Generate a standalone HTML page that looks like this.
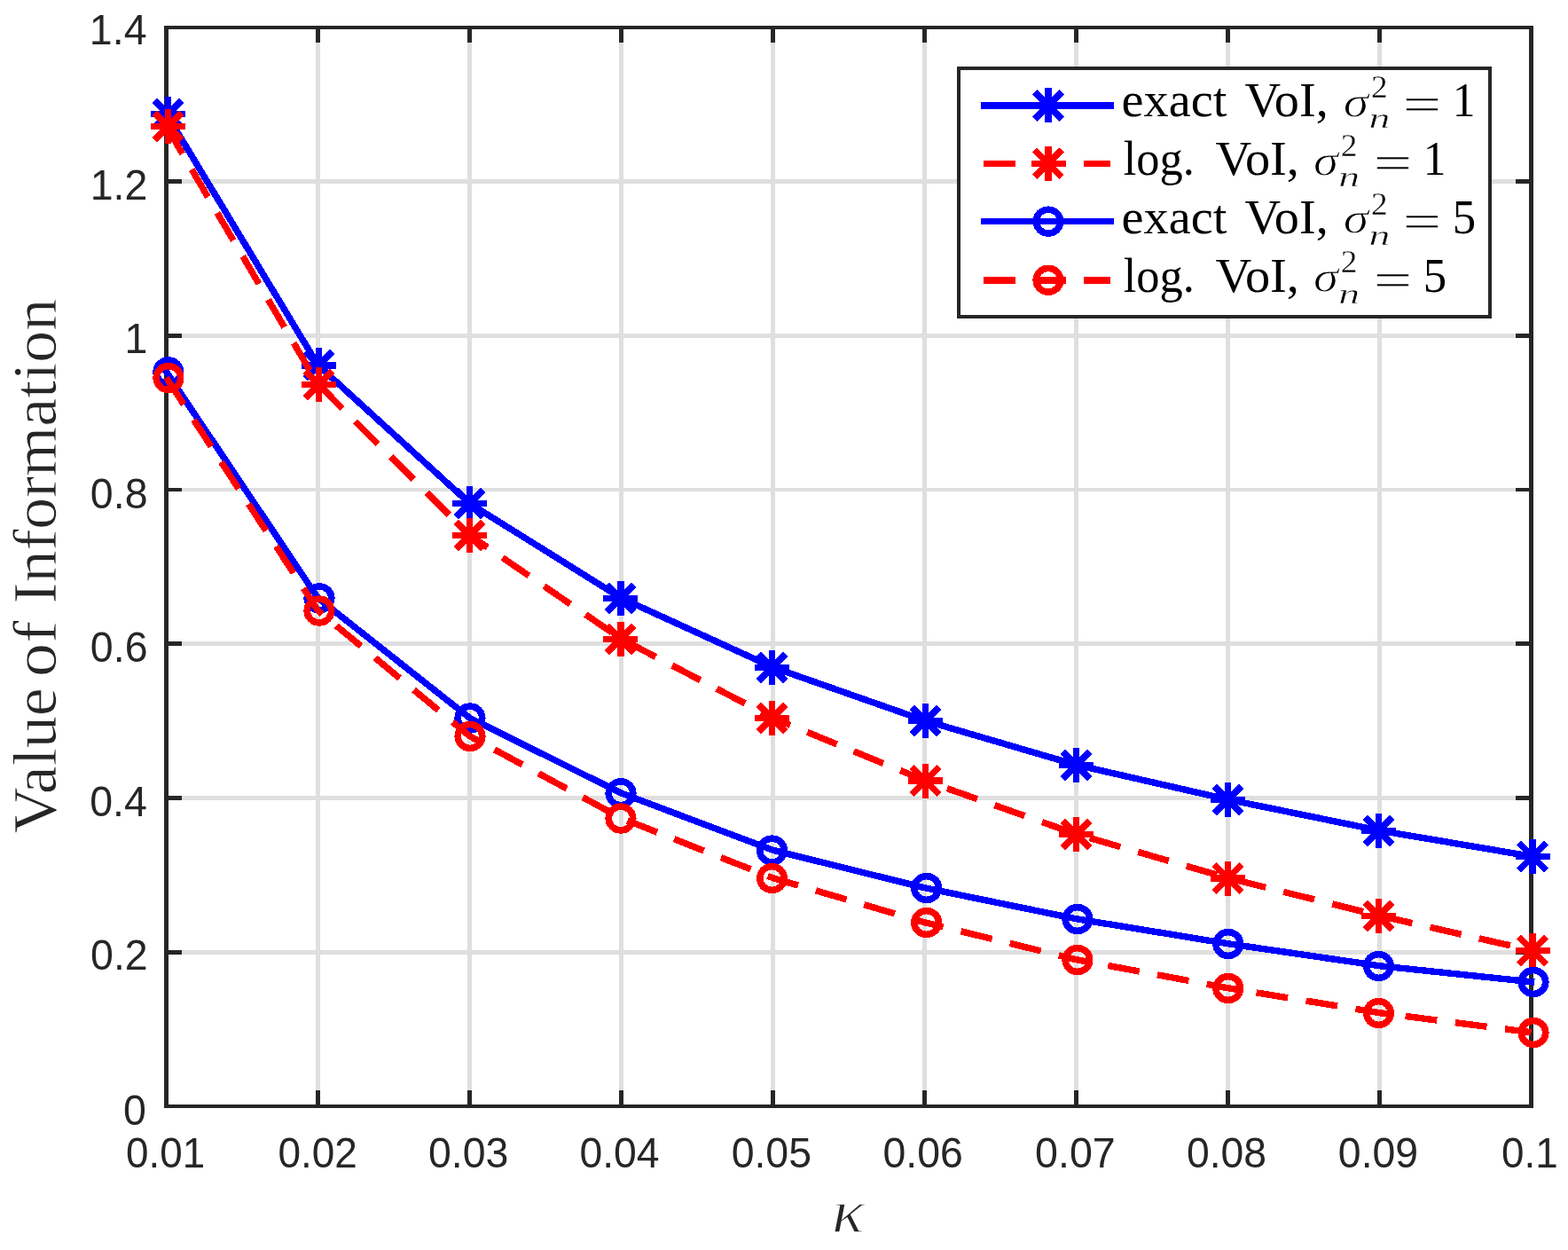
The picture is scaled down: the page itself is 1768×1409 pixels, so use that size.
<!DOCTYPE html>
<html lang="en">
<head>
<meta charset="utf-8">
<title>Value of Information vs kappa</title>
<style>
html,body{margin:0;padding:0;background:#fff;}
body{width:1768px;height:1409px;overflow:hidden;}
svg{display:block;}
text{white-space:pre;}
</style>
</head>
<body>
<svg width="1768" height="1409" viewBox="0 0 1768 1409" role="img" aria-label="Value of Information versus kappa">
<rect width="1768" height="1409" fill="#fff"/>
<g shape-rendering="crispEdges">
<rect x="356.00" y="31.00" width="5.00" height="1216.00" fill="#dfdfdf"/>
<rect x="527.00" y="31.00" width="5.00" height="1216.00" fill="#dfdfdf"/>
<rect x="698.00" y="31.00" width="5.00" height="1216.00" fill="#dfdfdf"/>
<rect x="869.00" y="31.00" width="5.00" height="1216.00" fill="#dfdfdf"/>
<rect x="1040.00" y="31.00" width="5.00" height="1216.00" fill="#dfdfdf"/>
<rect x="1211.00" y="31.00" width="5.00" height="1216.00" fill="#dfdfdf"/>
<rect x="1382.00" y="31.00" width="5.00" height="1216.00" fill="#dfdfdf"/>
<rect x="1553.00" y="31.00" width="5.00" height="1216.00" fill="#dfdfdf"/>
<rect x="187.50" y="202.00" width="1539.00" height="5.00" fill="#dfdfdf"/>
<rect x="187.50" y="376.00" width="1539.00" height="5.00" fill="#dfdfdf"/>
<rect x="187.50" y="550.00" width="1539.00" height="4.00" fill="#dfdfdf"/>
<rect x="187.50" y="723.00" width="1539.00" height="5.00" fill="#dfdfdf"/>
<rect x="187.50" y="897.00" width="1539.00" height="5.00" fill="#dfdfdf"/>
<rect x="187.50" y="1071.00" width="1539.00" height="5.00" fill="#dfdfdf"/>
</g>
<g shape-rendering="crispEdges">
<rect x="185.00" y="29.00" width="1544.00" height="4.00" fill="#262626"/>
<rect x="185.00" y="1245.00" width="1544.00" height="4.00" fill="#262626"/>
<rect x="185.00" y="29.00" width="5.00" height="1220.00" fill="#262626"/>
<rect x="1724.00" y="29.00" width="5.00" height="1220.00" fill="#262626"/>
<rect x="356.00" y="1229.00" width="5.00" height="18.00" fill="#262626"/>
<rect x="356.00" y="31.00" width="5.00" height="16.50" fill="#262626"/>
<rect x="527.00" y="1229.00" width="5.00" height="18.00" fill="#262626"/>
<rect x="527.00" y="31.00" width="5.00" height="16.50" fill="#262626"/>
<rect x="698.00" y="1229.00" width="5.00" height="18.00" fill="#262626"/>
<rect x="698.00" y="31.00" width="5.00" height="16.50" fill="#262626"/>
<rect x="869.00" y="1229.00" width="5.00" height="18.00" fill="#262626"/>
<rect x="869.00" y="31.00" width="5.00" height="16.50" fill="#262626"/>
<rect x="1040.00" y="1229.00" width="5.00" height="18.00" fill="#262626"/>
<rect x="1040.00" y="31.00" width="5.00" height="16.50" fill="#262626"/>
<rect x="1211.00" y="1229.00" width="5.00" height="18.00" fill="#262626"/>
<rect x="1211.00" y="31.00" width="5.00" height="16.50" fill="#262626"/>
<rect x="1382.00" y="1229.00" width="5.00" height="18.00" fill="#262626"/>
<rect x="1382.00" y="31.00" width="5.00" height="16.50" fill="#262626"/>
<rect x="1553.00" y="1229.00" width="5.00" height="18.00" fill="#262626"/>
<rect x="1553.00" y="31.00" width="5.00" height="16.50" fill="#262626"/>
<rect x="187.50" y="202.00" width="17.50" height="5.00" fill="#262626"/>
<rect x="1709.00" y="202.00" width="17.50" height="5.00" fill="#262626"/>
<rect x="187.50" y="376.00" width="17.50" height="5.00" fill="#262626"/>
<rect x="1709.00" y="376.00" width="17.50" height="5.00" fill="#262626"/>
<rect x="187.50" y="550.00" width="17.50" height="4.00" fill="#262626"/>
<rect x="1709.00" y="550.00" width="17.50" height="4.00" fill="#262626"/>
<rect x="187.50" y="723.00" width="17.50" height="5.00" fill="#262626"/>
<rect x="1709.00" y="723.00" width="17.50" height="5.00" fill="#262626"/>
<rect x="187.50" y="897.00" width="17.50" height="5.00" fill="#262626"/>
<rect x="1709.00" y="897.00" width="17.50" height="5.00" fill="#262626"/>
<rect x="187.50" y="1071.00" width="17.50" height="5.00" fill="#262626"/>
<rect x="1709.00" y="1071.00" width="17.50" height="5.00" fill="#262626"/>
<path d="M187.50 128.20L358.50 411.50L529.50 567.40L700.50 674.20L871.50 752.20L1042.50 812.20L1213.50 862.20L1384.50 901.20L1555.50 936.20L1726.50 965.20" fill="none" stroke="#0000ff" stroke-width="7.4" stroke-linejoin="miter" stroke-linecap="square"/>
<g stroke="#0000ff" fill="none" stroke-linecap="butt"><path stroke-width="7.5" d="M170.00 128.50H209.00M189.50 109.00V148.00"/><path stroke-width="7.6" d="M174.20 113.20L204.80 143.80M174.20 143.80L204.80 113.20"/></g>
<g stroke="#0000ff" fill="none" stroke-linecap="butt"><path stroke-width="7.5" d="M340.00 411.80H379.00M359.50 392.30V431.30"/><path stroke-width="7.6" d="M344.20 396.50L374.80 427.10M344.20 427.10L374.80 396.50"/></g>
<g stroke="#0000ff" fill="none" stroke-linecap="butt"><path stroke-width="7.5" d="M510.00 567.70H549.00M529.50 548.20V587.20"/><path stroke-width="7.6" d="M514.20 552.40L544.80 583.00M514.20 583.00L544.80 552.40"/></g>
<g stroke="#0000ff" fill="none" stroke-linecap="butt"><path stroke-width="7.5" d="M680.25 674.50H719.25M699.75 655.00V694.00"/><path stroke-width="7.6" d="M684.45 659.20L715.05 689.80M684.45 689.80L715.05 659.20"/></g>
<g stroke="#0000ff" fill="none" stroke-linecap="butt"><path stroke-width="7.5" d="M851.00 752.50H890.00M870.50 733.00V772.00"/><path stroke-width="7.6" d="M855.20 737.20L885.80 767.80M855.20 767.80L885.80 737.20"/></g>
<g stroke="#0000ff" fill="none" stroke-linecap="butt"><path stroke-width="7.5" d="M1024.00 812.50H1063.00M1043.50 793.00V832.00"/><path stroke-width="7.6" d="M1028.20 797.20L1058.80 827.80M1028.20 827.80L1058.80 797.20"/></g>
<g stroke="#0000ff" fill="none" stroke-linecap="butt"><path stroke-width="7.5" d="M1194.00 862.50H1233.00M1213.50 843.00V882.00"/><path stroke-width="7.6" d="M1198.20 847.20L1228.80 877.80M1198.20 877.80L1228.80 847.20"/></g>
<g stroke="#0000ff" fill="none" stroke-linecap="butt"><path stroke-width="7.5" d="M1365.00 901.50H1404.00M1384.50 882.00V921.00"/><path stroke-width="7.6" d="M1369.20 886.20L1399.80 916.80M1369.20 916.80L1399.80 886.20"/></g>
<g stroke="#0000ff" fill="none" stroke-linecap="butt"><path stroke-width="7.5" d="M1535.10 936.50H1574.10M1554.60 917.00V956.00"/><path stroke-width="7.6" d="M1539.30 921.20L1569.90 951.80M1539.30 951.80L1569.90 921.20"/></g>
<g stroke="#0000ff" fill="none" stroke-linecap="butt"><path stroke-width="7.5" d="M1708.50 965.50H1747.50M1728.00 946.00V985.00"/><path stroke-width="7.6" d="M1712.70 950.20L1743.30 980.80M1712.70 980.80L1743.30 950.20"/></g>
<path d="M187.50 142.20L358.50 433.20L529.50 603.20L700.50 720.20L871.50 809.30L1042.50 879.70L1213.50 940.20L1384.50 989.70L1555.50 1032.20L1726.50 1071.20" fill="none" stroke="#ff0000" stroke-width="7.4" stroke-linejoin="miter" stroke-linecap="butt" stroke-dasharray="36.0 20.7"/>
<g stroke="#ff0000" fill="none" stroke-linecap="butt"><path stroke-width="7.5" d="M170.00 142.50H209.00M189.50 123.00V162.00"/><path stroke-width="7.6" d="M174.20 127.20L204.80 157.80M174.20 157.80L204.80 127.20"/></g>
<g stroke="#ff0000" fill="none" stroke-linecap="butt"><path stroke-width="7.5" d="M340.00 433.50H379.00M359.50 414.00V453.00"/><path stroke-width="7.6" d="M344.20 418.20L374.80 448.80M344.20 448.80L374.80 418.20"/></g>
<g stroke="#ff0000" fill="none" stroke-linecap="butt"><path stroke-width="7.5" d="M510.00 603.50H549.00M529.50 584.00V623.00"/><path stroke-width="7.6" d="M514.20 588.20L544.80 618.80M514.20 618.80L544.80 588.20"/></g>
<g stroke="#ff0000" fill="none" stroke-linecap="butt"><path stroke-width="7.5" d="M680.25 720.50H719.25M699.75 701.00V740.00"/><path stroke-width="7.6" d="M684.45 705.20L715.05 735.80M684.45 735.80L715.05 705.20"/></g>
<g stroke="#ff0000" fill="none" stroke-linecap="butt"><path stroke-width="7.5" d="M851.00 809.60H890.00M870.50 790.10V829.10"/><path stroke-width="7.6" d="M855.20 794.30L885.80 824.90M855.20 824.90L885.80 794.30"/></g>
<g stroke="#ff0000" fill="none" stroke-linecap="butt"><path stroke-width="7.5" d="M1024.00 880.00H1063.00M1043.50 860.50V899.50"/><path stroke-width="7.6" d="M1028.20 864.70L1058.80 895.30M1028.20 895.30L1058.80 864.70"/></g>
<g stroke="#ff0000" fill="none" stroke-linecap="butt"><path stroke-width="7.5" d="M1194.00 940.50H1233.00M1213.50 921.00V960.00"/><path stroke-width="7.6" d="M1198.20 925.20L1228.80 955.80M1198.20 955.80L1228.80 925.20"/></g>
<g stroke="#ff0000" fill="none" stroke-linecap="butt"><path stroke-width="7.5" d="M1365.00 990.00H1404.00M1384.50 970.50V1009.50"/><path stroke-width="7.6" d="M1369.20 974.70L1399.80 1005.30M1369.20 1005.30L1399.80 974.70"/></g>
<g stroke="#ff0000" fill="none" stroke-linecap="butt"><path stroke-width="7.5" d="M1535.10 1032.50H1574.10M1554.60 1013.00V1052.00"/><path stroke-width="7.6" d="M1539.30 1017.20L1569.90 1047.80M1539.30 1047.80L1569.90 1017.20"/></g>
<g stroke="#ff0000" fill="none" stroke-linecap="butt"><path stroke-width="7.5" d="M1708.50 1071.50H1747.50M1728.00 1052.00V1091.00"/><path stroke-width="7.6" d="M1712.70 1056.20L1743.30 1086.80M1712.70 1086.80L1743.30 1056.20"/></g>
<path d="M187.50 419.10L358.50 674.10L529.50 809.20L700.50 894.00L871.50 958.30L1042.50 1000.70L1213.50 1035.70L1384.50 1063.70L1555.50 1088.70L1726.50 1106.70" fill="none" stroke="#0000ff" stroke-width="7.4" stroke-linejoin="miter" stroke-linecap="square"/>
<ellipse cx="189.90" cy="419.40" rx="13.8" ry="13.4" stroke="#0000ff" stroke-width="7.6" fill="none"/>
<ellipse cx="360.00" cy="674.40" rx="13.8" ry="13.4" stroke="#0000ff" stroke-width="7.6" fill="none"/>
<ellipse cx="530.00" cy="809.50" rx="13.8" ry="13.4" stroke="#0000ff" stroke-width="7.6" fill="none"/>
<ellipse cx="700.00" cy="894.30" rx="13.8" ry="13.4" stroke="#0000ff" stroke-width="7.6" fill="none"/>
<ellipse cx="870.50" cy="958.60" rx="13.8" ry="13.4" stroke="#0000ff" stroke-width="7.6" fill="none"/>
<ellipse cx="1044.70" cy="1001.00" rx="13.8" ry="13.4" stroke="#0000ff" stroke-width="7.6" fill="none"/>
<ellipse cx="1214.90" cy="1036.00" rx="13.8" ry="13.4" stroke="#0000ff" stroke-width="7.6" fill="none"/>
<ellipse cx="1384.80" cy="1064.00" rx="13.8" ry="13.4" stroke="#0000ff" stroke-width="7.6" fill="none"/>
<ellipse cx="1554.50" cy="1089.00" rx="13.8" ry="13.4" stroke="#0000ff" stroke-width="7.6" fill="none"/>
<ellipse cx="1729.00" cy="1107.00" rx="13.8" ry="13.4" stroke="#0000ff" stroke-width="7.6" fill="none"/>
<path d="M187.50 425.70L358.50 688.20L529.50 829.70L700.50 922.20L871.50 989.70L1042.50 1039.70L1213.50 1081.70L1384.50 1113.70L1555.50 1141.70L1726.50 1163.70" fill="none" stroke="#ff0000" stroke-width="7.4" stroke-linejoin="miter" stroke-linecap="butt" stroke-dasharray="36.0 20.7"/>
<ellipse cx="189.90" cy="426.00" rx="13.8" ry="13.4" stroke="#ff0000" stroke-width="7.6" fill="none"/>
<ellipse cx="360.00" cy="688.50" rx="13.8" ry="13.4" stroke="#ff0000" stroke-width="7.6" fill="none"/>
<ellipse cx="530.00" cy="830.00" rx="13.8" ry="13.4" stroke="#ff0000" stroke-width="7.6" fill="none"/>
<ellipse cx="700.00" cy="922.50" rx="13.8" ry="13.4" stroke="#ff0000" stroke-width="7.6" fill="none"/>
<ellipse cx="870.50" cy="990.00" rx="13.8" ry="13.4" stroke="#ff0000" stroke-width="7.6" fill="none"/>
<ellipse cx="1044.70" cy="1040.00" rx="13.8" ry="13.4" stroke="#ff0000" stroke-width="7.6" fill="none"/>
<ellipse cx="1214.90" cy="1082.00" rx="13.8" ry="13.4" stroke="#ff0000" stroke-width="7.6" fill="none"/>
<ellipse cx="1384.80" cy="1114.00" rx="13.8" ry="13.4" stroke="#ff0000" stroke-width="7.6" fill="none"/>
<ellipse cx="1554.50" cy="1142.00" rx="13.8" ry="13.4" stroke="#ff0000" stroke-width="7.6" fill="none"/>
<ellipse cx="1729.00" cy="1164.00" rx="13.8" ry="13.4" stroke="#ff0000" stroke-width="7.6" fill="none"/>
<rect x="1081.0" y="77.0" width="599.2" height="280.0" fill="#fff" stroke="#262626" stroke-width="4.2"/>
<rect x="1106.00" y="114.90" width="150.20" height="7.60" fill="#0000ff"/>
<g stroke="#0000ff" fill="none" stroke-linecap="butt"><path stroke-width="7.5" d="M1162.50 118.70H1201.50M1182.00 99.20V138.20"/><path stroke-width="7.6" d="M1166.70 103.40L1197.30 134.00M1166.70 134.00L1197.30 103.40"/></g>
<rect x="1108.80" y="180.60" width="36.20" height="7.60" fill="#ff0000"/>
<rect x="1165.40" y="180.60" width="36.20" height="7.60" fill="#ff0000"/>
<rect x="1222.00" y="180.60" width="30.10" height="7.60" fill="#ff0000"/>
<g stroke="#ff0000" fill="none" stroke-linecap="butt"><path stroke-width="7.5" d="M1162.50 184.40H1201.50M1182.00 164.90V203.90"/><path stroke-width="7.6" d="M1166.70 169.10L1197.30 199.70M1166.70 199.70L1197.30 169.10"/></g>
<rect x="1106.00" y="245.80" width="150.20" height="7.60" fill="#0000ff"/>
<ellipse cx="1182.00" cy="249.60" rx="13.8" ry="13.4" stroke="#0000ff" stroke-width="7.6" fill="none"/>
<rect x="1108.80" y="311.90" width="36.20" height="7.60" fill="#ff0000"/>
<rect x="1165.40" y="311.90" width="36.20" height="7.60" fill="#ff0000"/>
<rect x="1222.00" y="311.90" width="30.10" height="7.60" fill="#ff0000"/>
<ellipse cx="1182.00" cy="315.70" rx="13.8" ry="13.4" stroke="#ff0000" stroke-width="7.6" fill="none"/>
</g>
<text transform="translate(141.97 1316.30) scale(0.9850 1.0360)" font-family="'Liberation Sans', sans-serif" font-style="normal" font-size="46.5px" fill="#262626">0.01</text>
<text transform="translate(313.46 1316.30) scale(0.9889 1.0360)" font-family="'Liberation Sans', sans-serif" font-style="normal" font-size="46.5px" fill="#262626">0.02</text>
<text transform="translate(483.04 1316.30) scale(0.9990 1.0360)" font-family="'Liberation Sans', sans-serif" font-style="normal" font-size="46.5px" fill="#262626">0.03</text>
<text transform="translate(653.45 1316.30) scale(0.9967 1.0360)" font-family="'Liberation Sans', sans-serif" font-style="normal" font-size="46.5px" fill="#262626">0.04</text>
<text transform="translate(824.64 1316.30) scale(0.9986 1.0360)" font-family="'Liberation Sans', sans-serif" font-style="normal" font-size="46.5px" fill="#262626">0.05</text>
<text transform="translate(995.54 1316.30) scale(0.9990 1.0360)" font-family="'Liberation Sans', sans-serif" font-style="normal" font-size="46.5px" fill="#262626">0.06</text>
<text transform="translate(1167.04 1316.30) scale(1.0017 1.0360)" font-family="'Liberation Sans', sans-serif" font-style="normal" font-size="46.5px" fill="#262626">0.07</text>
<text transform="translate(1337.95 1316.30) scale(0.9963 1.0360)" font-family="'Liberation Sans', sans-serif" font-style="normal" font-size="46.5px" fill="#262626">0.08</text>
<text transform="translate(1508.84 1316.30) scale(0.9978 1.0360)" font-family="'Liberation Sans', sans-serif" font-style="normal" font-size="46.5px" fill="#262626">0.09</text>
<text transform="translate(1693.07 1316.30) scale(0.9850 1.0360)" font-family="'Liberation Sans', sans-serif" font-style="normal" font-size="46.5px" fill="#262626">0.1</text>
<text transform="translate(100.86 50.00) scale(1.0000 1.0360)" font-family="'Liberation Sans', sans-serif" font-style="normal" font-size="46.5px" fill="#262626">1.4</text>
<text transform="translate(101.69 224.70) scale(1.0000 1.0360)" font-family="'Liberation Sans', sans-serif" font-style="normal" font-size="46.5px" fill="#262626">1.2</text>
<text transform="translate(140.51 398.10) scale(1.0000 1.0360)" font-family="'Liberation Sans', sans-serif" font-style="normal" font-size="46.5px" fill="#262626">1</text>
<text transform="translate(101.86 572.60) scale(1.0000 1.0360)" font-family="'Liberation Sans', sans-serif" font-style="normal" font-size="46.5px" fill="#262626">0.8</text>
<text transform="translate(101.86 745.80) scale(1.0000 1.0360)" font-family="'Liberation Sans', sans-serif" font-style="normal" font-size="46.5px" fill="#262626">0.6</text>
<text transform="translate(101.16 919.70) scale(1.0000 1.0360)" font-family="'Liberation Sans', sans-serif" font-style="normal" font-size="46.5px" fill="#262626">0.4</text>
<text transform="translate(102.09 1093.00) scale(1.0000 1.0360)" font-family="'Liberation Sans', sans-serif" font-style="normal" font-size="46.5px" fill="#262626">0.2</text>
<text transform="translate(139.05 1267.50) scale(1.0000 1.0360)" font-family="'Liberation Sans', sans-serif" font-style="normal" font-size="46.5px" fill="#262626">0</text>
<text transform="translate(937.68 1388.60) scale(1.1115 1.0000)" font-family="'Liberation Serif', serif" font-style="italic" font-size="70.0px" fill="#262626" stroke="#fff" stroke-width="1.3">κ</text>
<text transform="translate(63.00 939.22) rotate(-90) scale(1.0282 1)" font-family="'Liberation Serif', serif" font-size="70.0px" fill="#262626" stroke="#fff" stroke-width="0.7">Value</text>
<text transform="translate(63.00 763.04) rotate(-90) scale(1.0854 1)" font-family="'Liberation Serif', serif" font-size="70.0px" fill="#262626" stroke="#fff" stroke-width="0.7">of</text>
<text transform="translate(63.00 680.52) rotate(-90) scale(1.0280 1)" font-family="'Liberation Serif', serif" font-size="70.0px" fill="#262626" stroke="#fff" stroke-width="0.7">Information</text>
<text transform="translate(1264.55 131.00) scale(1.0240 1.0000)" font-family="'Liberation Serif', serif" font-style="normal" font-size="55.0px" fill="#000">exact</text>
<text transform="translate(1403.54 131.00) scale(1.0218 1.0000)" font-family="'Liberation Serif', serif" font-style="normal" font-size="55.0px" fill="#000">VoI,</text>
<text transform="translate(1514.87 131.60) scale(1.1379 1.0000)" font-family="'Liberation Serif', serif" font-style="italic" font-size="50.6px" fill="#000" stroke="#fff" stroke-width="0.9">σ</text>
<text transform="translate(1546.12 109.80) scale(1.0347 1.0000)" font-family="'Liberation Serif', serif" font-style="normal" font-size="36.0px" fill="#000" stroke="#fff" stroke-width="0.3">2</text>
<text transform="translate(1543.43 144.40) scale(1.4926 1.0000)" font-family="'Liberation Serif', serif" font-style="italic" font-size="32.0px" fill="#000" stroke="#fff" stroke-width="0.5">n</text>
<text transform="translate(1581.52 136.00) scale(1.4115 1.0000)" font-family="'Liberation Serif', serif" font-style="normal" font-size="55.0px" fill="#000" stroke="#fff" stroke-width="0.5">=</text>
<text transform="translate(1637.77 131.00) scale(0.9351 1.0000)" font-family="'Liberation Serif', serif" font-style="normal" font-size="55.0px" fill="#000">1</text>
<text transform="translate(1266.75 196.90) scale(0.9533 1.0000)" font-family="'Liberation Serif', serif" font-style="normal" font-size="55.0px" fill="#000">log.</text>
<text transform="translate(1370.44 196.90) scale(1.0252 1.0000)" font-family="'Liberation Serif', serif" font-style="normal" font-size="55.0px" fill="#000">VoI,</text>
<text transform="translate(1481.00 197.50) scale(1.1219 1.0000)" font-family="'Liberation Serif', serif" font-style="italic" font-size="50.6px" fill="#000" stroke="#fff" stroke-width="0.9">σ</text>
<text transform="translate(1511.82 175.70) scale(1.0347 1.0000)" font-family="'Liberation Serif', serif" font-style="normal" font-size="36.0px" fill="#000" stroke="#fff" stroke-width="0.3">2</text>
<text transform="translate(1509.13 210.30) scale(1.4926 1.0000)" font-family="'Liberation Serif', serif" font-style="italic" font-size="32.0px" fill="#000" stroke="#fff" stroke-width="0.5">n</text>
<text transform="translate(1548.57 201.90) scale(1.4096 1.0000)" font-family="'Liberation Serif', serif" font-style="normal" font-size="55.0px" fill="#000" stroke="#fff" stroke-width="0.5">=</text>
<text transform="translate(1604.77 196.90) scale(0.9351 1.0000)" font-family="'Liberation Serif', serif" font-style="normal" font-size="55.0px" fill="#000">1</text>
<text transform="translate(1264.55 262.70) scale(1.0240 1.0000)" font-family="'Liberation Serif', serif" font-style="normal" font-size="55.0px" fill="#000">exact</text>
<text transform="translate(1403.54 262.70) scale(1.0218 1.0000)" font-family="'Liberation Serif', serif" font-style="normal" font-size="55.0px" fill="#000">VoI,</text>
<text transform="translate(1514.87 263.30) scale(1.1379 1.0000)" font-family="'Liberation Serif', serif" font-style="italic" font-size="50.6px" fill="#000" stroke="#fff" stroke-width="0.9">σ</text>
<text transform="translate(1546.12 241.50) scale(1.0347 1.0000)" font-family="'Liberation Serif', serif" font-style="normal" font-size="36.0px" fill="#000" stroke="#fff" stroke-width="0.3">2</text>
<text transform="translate(1543.43 276.10) scale(1.4926 1.0000)" font-family="'Liberation Serif', serif" font-style="italic" font-size="32.0px" fill="#000" stroke="#fff" stroke-width="0.5">n</text>
<text transform="translate(1581.52 267.70) scale(1.4115 1.0000)" font-family="'Liberation Serif', serif" font-style="normal" font-size="55.0px" fill="#000" stroke="#fff" stroke-width="0.5">=</text>
<text transform="translate(1637.63 262.70) scale(0.9591 1.0000)" font-family="'Liberation Serif', serif" font-style="normal" font-size="55.0px" fill="#000">5</text>
<text transform="translate(1266.75 328.60) scale(0.9533 1.0000)" font-family="'Liberation Serif', serif" font-style="normal" font-size="55.0px" fill="#000">log.</text>
<text transform="translate(1370.44 328.60) scale(1.0252 1.0000)" font-family="'Liberation Serif', serif" font-style="normal" font-size="55.0px" fill="#000">VoI,</text>
<text transform="translate(1481.00 329.20) scale(1.1219 1.0000)" font-family="'Liberation Serif', serif" font-style="italic" font-size="50.6px" fill="#000" stroke="#fff" stroke-width="0.9">σ</text>
<text transform="translate(1511.82 307.40) scale(1.0347 1.0000)" font-family="'Liberation Serif', serif" font-style="normal" font-size="36.0px" fill="#000" stroke="#fff" stroke-width="0.3">2</text>
<text transform="translate(1509.13 342.00) scale(1.4926 1.0000)" font-family="'Liberation Serif', serif" font-style="italic" font-size="32.0px" fill="#000" stroke="#fff" stroke-width="0.5">n</text>
<text transform="translate(1548.57 333.60) scale(1.4096 1.0000)" font-family="'Liberation Serif', serif" font-style="normal" font-size="55.0px" fill="#000" stroke="#fff" stroke-width="0.5">=</text>
<text transform="translate(1604.63 328.60) scale(0.9591 1.0000)" font-family="'Liberation Serif', serif" font-style="normal" font-size="55.0px" fill="#000">5</text>
</svg>
</body>
</html>
